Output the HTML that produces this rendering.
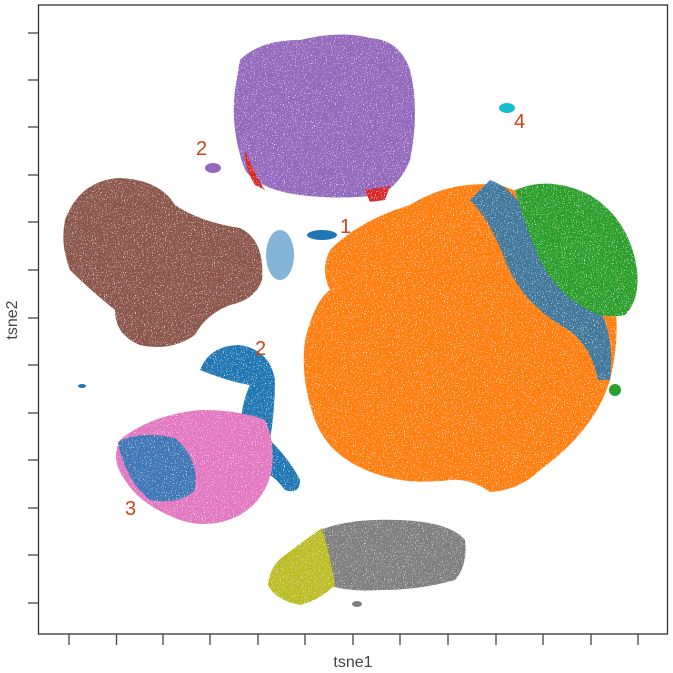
<!DOCTYPE html>
<html><head><style>
body{margin:0;background:#fff;}
svg{display:block;font-family:"Liberation Sans","DejaVu Sans",sans-serif;}
</style></head><body>
<svg width="673" height="673" viewBox="0 0 673 673">
<defs>
<filter id="spk" x="-10%" y="-10%" width="120%" height="120%">
<feTurbulence type="fractalNoise" baseFrequency="0.9" numOctaves="1" seed="3" result="n"/>
<feColorMatrix in="n" type="matrix" values="0 0 0 0 1  0 0 0 0 1  0 0 0 0 1  -7 0 0 0 2.7" result="w"/>
<feComposite in="w" in2="SourceGraphic" operator="in" result="wm"/>
<feMerge><feMergeNode in="SourceGraphic"/><feMergeNode in="wm"/></feMerge>
</filter>
</defs>
<rect x="38.5" y="5" width="629" height="629" fill="#fff" stroke="#333" stroke-width="1.3"/>
<g stroke="#444" stroke-width="1.3">
<line x1="69" y1="634" x2="69" y2="645"/><line x1="116.5" y1="634" x2="116.5" y2="645"/><line x1="163" y1="634" x2="163" y2="645"/><line x1="210" y1="634" x2="210" y2="645"/><line x1="258" y1="634" x2="258" y2="645"/><line x1="305" y1="634" x2="305" y2="645"/><line x1="353" y1="634" x2="353" y2="645"/><line x1="400" y1="634" x2="400" y2="645"/><line x1="448" y1="634" x2="448" y2="645"/><line x1="496" y1="634" x2="496" y2="645"/><line x1="543" y1="634" x2="543" y2="645"/><line x1="591" y1="634" x2="591" y2="645"/><line x1="638" y1="634" x2="638" y2="645"/>
<line x1="28" y1="33" x2="38.5" y2="33"/><line x1="28" y1="80" x2="38.5" y2="80"/><line x1="28" y1="127" x2="38.5" y2="127"/><line x1="28" y1="175" x2="38.5" y2="175"/><line x1="28" y1="222" x2="38.5" y2="222"/><line x1="28" y1="270" x2="38.5" y2="270"/><line x1="28" y1="318" x2="38.5" y2="318"/><line x1="28" y1="365" x2="38.5" y2="365"/><line x1="28" y1="413" x2="38.5" y2="413"/><line x1="28" y1="460" x2="38.5" y2="460"/><line x1="28" y1="508" x2="38.5" y2="508"/><line x1="28" y1="555" x2="38.5" y2="555"/><line x1="28" y1="603" x2="38.5" y2="603"/>
</g>
<text x="353" y="667" font-size="16" fill="#444" text-anchor="middle">tsne1</text>
<text x="17" y="320" font-size="16" fill="#444" text-anchor="middle" transform="rotate(-90 17 320)">tsne2</text>
<g filter="url(#spk)">
<path d="M240 60 Q260 40 300 40 Q340 30 370 38 Q400 40 410 70 Q420 110 410 160 Q400 185 380 195 Q340 200 300 195 Q260 190 245 170 Q230 130 235 90 Z" fill="#9467bd"/>
<path d="M245 150 Q255 175 265 190 L255 185 Q245 170 245 150Z" fill="#d62728"/>
<path d="M365 190 L390 186 L385 200 L370 202Z" fill="#d62728"/>
<path d="M65 220 Q80 180 120 178 Q160 180 175 205 Q200 222 240 228 Q265 240 262 280 Q255 300 230 305 Q205 315 195 335 Q170 352 140 345 Q115 335 115 310 Q90 290 70 270 Q60 245 65 220Z" fill="#8c564b"/>
<path d="M330 250 Q360 220 410 205 Q450 180 500 185 Q530 195 560 215 Q600 240 615 300 Q620 340 610 380 Q595 430 540 470 Q520 490 490 492 Q470 478 450 480 Q410 485 380 475 Q330 460 315 420 Q300 380 305 340 Q315 300 330 290 Q320 270 330 250Z" fill="#ff7f0e"/>
<path d="M490 180 Q520 190 540 240 Q560 290 600 310 Q615 340 610 380 L598 380 Q590 340 560 325 Q520 300 505 260 Q490 220 470 200 Z" fill="#1f77b4" opacity="0.85"/>
<path d="M515 190 Q550 175 590 195 Q630 220 637 270 Q640 300 625 315 Q600 320 580 305 Q555 290 540 260 Q525 225 515 190Z" fill="#2ca02c"/>
<path d="M200 370 Q210 345 240 345 Q270 350 275 380 Q275 410 270 440 Q290 460 300 480 Q300 495 285 490 Q270 470 255 470 L240 440 Q240 405 250 385 Q230 382 200 370Z" fill="#1f77b4"/>
<path d="M120 440 Q150 415 200 410 Q240 410 265 420 Q275 440 272 470 Q265 500 240 515 Q210 530 180 520 Q140 505 125 480 Q110 460 120 440Z" fill="#e377c2"/>
<path d="M118 442 Q140 430 175 438 Q200 460 195 490 Q180 505 150 500 Q125 480 118 442Z" fill="#1f77b4" opacity="0.85"/>
<path d="M320 530 Q350 518 400 520 Q450 522 465 540 Q468 565 455 580 Q420 590 380 590 Q345 592 330 585 Q318 560 320 530Z" fill="#7f7f7f"/>
<path d="M285 555 Q305 540 322 528 Q330 555 335 585 Q320 600 300 605 Q275 600 268 585 Q270 565 285 555Z" fill="#bcbd22"/>
</g>
<ellipse cx="322" cy="235" rx="15" ry="5" fill="#1f77b4"/>
<ellipse cx="280" cy="255" rx="14" ry="25" fill="#1f77b4" opacity="0.55"/>
<ellipse cx="507" cy="108" rx="8" ry="5" fill="#17becf"/>
<ellipse cx="213" cy="168" rx="8" ry="5" fill="#9467bd"/>
<ellipse cx="82" cy="386" rx="4" ry="2" fill="#1f77b4"/>
<ellipse cx="615" cy="390" rx="6" ry="6" fill="#2ca02c"/>
<ellipse cx="357" cy="604" rx="5" ry="3" fill="#7f7f7f"/>
<g font-size="20" fill="#cc4411">
<text x="340" y="233">1</text>
<text x="196" y="155">2</text>
<text x="255" y="355">2</text>
<text x="125" y="515">3</text>
<text x="514" y="128">4</text>
</g>
</svg>
</body></html>
